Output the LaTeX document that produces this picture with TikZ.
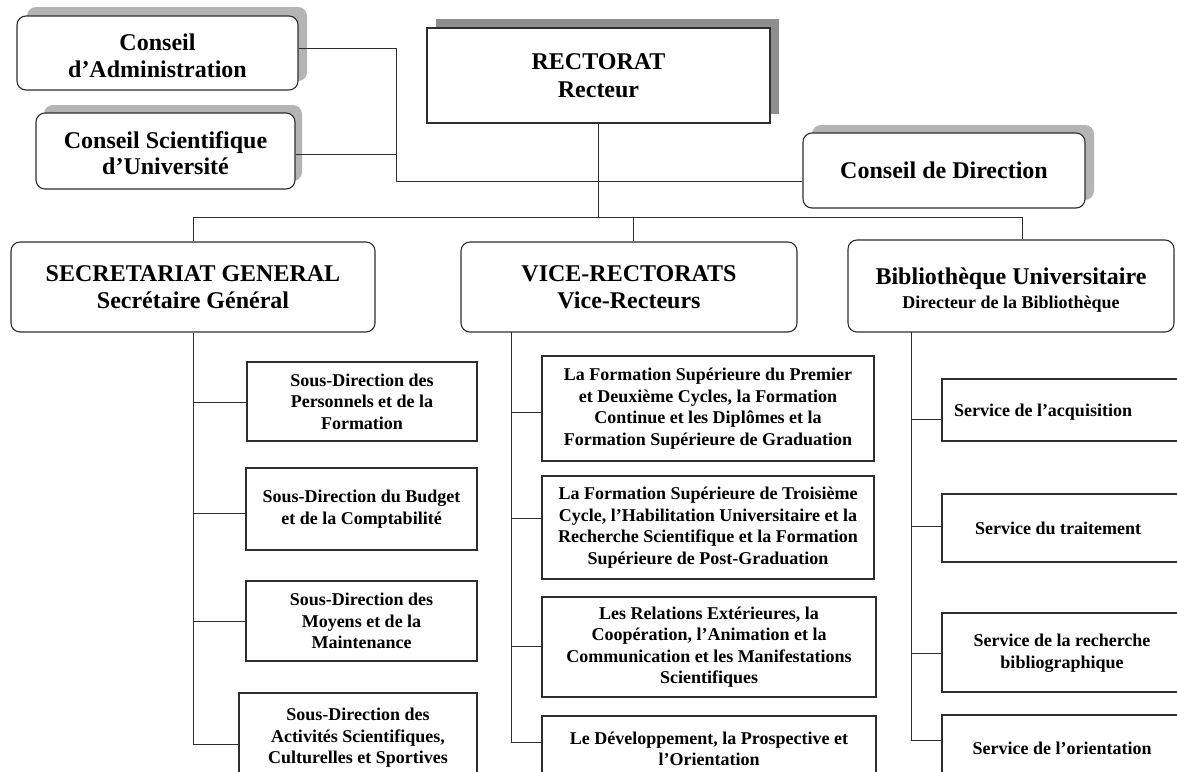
\documentclass[tikz,border=0pt]{standalone}
\usepackage{fontspec}
\setmainfont{Liberation Serif}
\definecolor{linecol}{HTML}{2E2E2E}
\definecolor{shadlight}{HTML}{B4B4B4}
\definecolor{shaddark}{HTML}{8E8E8E}
\begin{document}
\begin{tikzpicture}[x=1pt,y=-1pt,
  rbox/.style={draw=linecol, line width=1.1pt, rounded corners=9pt, fill=white, align=center, inner sep=0pt, text=black, font=\bfseries\fontsize{24}{27}\selectfont},
  rectbox/.style={draw=linecol, line width=1.3pt, fill=white, align=center, inner sep=0pt, text=black, font=\bfseries\fontsize{24}{28}\selectfont},
  btext/.style={align=center, inner sep=0pt, text=black, font=\bfseries\fontsize{24}{26.5}\selectfont},
  sbox/.style={draw=linecol, line width=1.1pt, fill=white, align=center, inner sep=0pt, text=black, font=\bfseries\fontsize{18}{21.5}\selectfont},
  stext/.style={align=center, inner sep=0pt, text=black, font=\bfseries\fontsize{18}{21.5}\selectfont},
  conn/.style={draw=linecol, line width=1pt}]
\useasboundingbox (0,0) rectangle (1177,771);
\clip (0,0) rectangle (1177,771);
\fill[white] (0,0) rectangle (1177,771);

% shadows
\fill[shadlight, rounded corners=9pt] (27,7) rectangle (307,81);
\fill[shadlight, rounded corners=9pt] (44,105) rectangle (302,181);
\fill[shaddark] (436,19) rectangle (779,114);
\fill[shadlight, rounded corners=9pt] (812,125) rectangle (1094,200);

% connector coordinates
\coordinate (caj) at (396,48);
\coordinate (csj) at (396,154);
\coordinate (cdj) at (396,181);
\coordinate (busL) at (193,217);
\coordinate (busM) at (633,217);
\coordinate (busR) at (1022,217);
\coordinate (sgb1) at (193,402);
\coordinate (sgb2) at (193,513);
\coordinate (sgb3) at (193,621);
\coordinate (sgb4) at (193,744);
\coordinate (vrs) at (511,332);
\coordinate (vrb1) at (511,412);
\coordinate (vrb2) at (511,518);
\coordinate (vrb3) at (511,646);
\coordinate (vrb4) at (511,742);
\coordinate (bbs) at (911,332);
\coordinate (bbb1) at (911,419);
\coordinate (bbb2) at (911,526);
\coordinate (bbb3) at (911,653);
\coordinate (bbb4) at (911,740);

% top nodes
\node[rbox, minimum width=281pt, minimum height=74pt] (ca) at (157.5,53) {};
\node[btext] (cat) at (157.5,56) {Conseil\\d’Administration};
\node[rbox, minimum width=259pt, minimum height=76pt] (csu) at (165.5,151) {};
\node[btext] (csut) at (165.5,153) {Conseil Scientifique\\d’Université};
\node[rectbox, minimum width=343pt, minimum height=95pt] (rect) at (598.5,75.5) {RECTORAT\\Recteur};
\node[rbox, minimum width=282pt, minimum height=75pt] (cd) at (944,170.5) {Conseil de Direction};

\node[rbox, minimum width=364pt, minimum height=90pt] (sg) at (193,287) {SECRETARIAT GENERAL\\Secrétaire Général};
\node[rbox, minimum width=336pt, minimum height=90pt] (vr) at (629,287) {VICE-RECTORATS\\Vice-Recteurs};
\node[rbox, minimum width=326pt, minimum height=92pt] (bib) at (1011,286) {};
\node[btext] (bibt) at (1011,290) {Bibliothèque Universitaire\\[-2pt]{\fontsize{18}{21}\selectfont Directeur de la Bibliothèque}};

% secretariat children
\node[sbox, minimum width=230pt, minimum height=79pt] (sg1) at (362,401.5) {Sous-Direction des\\Personnels et de la\\Formation};
\node[sbox, minimum width=231pt, minimum height=82pt] (sg2) at (361.5,509) {Sous-Direction du Budget\\et de la Comptabilité};
\node[sbox, minimum width=231pt, minimum height=80pt] (sg3) at (361.5,621) {Sous-Direction des\\Moyens et de la\\Maintenance};
\node[sbox, minimum width=238pt, minimum height=90pt] (sg4) at (358,738) {Sous-Direction des\\Activités Scientifiques,\\Culturelles et Sportives};

% vice-rectorat children
\node[sbox, minimum width=332pt, minimum height=105pt] (vr1) at (708,408.5) {La Formation Supérieure du Premier\\et Deuxième Cycles, la Formation\\Continue et les Diplômes et la\\Formation Supérieure de Graduation};
\node[sbox, minimum width=332pt, minimum height=103pt] (vr2) at (708,527.5) {La Formation Supérieure de Troisième\\Cycle, l’Habilitation Universitaire et la\\Recherche Scientifique et la Formation\\Supérieure de Post-Graduation};
\node[sbox, minimum width=334pt, minimum height=100pt] (vr3) at (709,647) {Les Relations Extérieures, la\\Coopération, l’Animation et la\\Communication et les Manifestations\\Scientifiques};
\node[sbox, minimum width=334pt, minimum height=66pt] (vr4) at (709,749) {Le Développement, la Prospective et\\l’Orientation};

% bibliotheque children
\node[sbox, minimum width=258pt, minimum height=62pt] (b1) at (1071,410) {};
\node[sbox, minimum width=258pt, minimum height=68pt] (b2) at (1071,528) {};
\node[sbox, minimum width=258pt, minimum height=79pt] (b3) at (1071,652.5) {};
\node[sbox, minimum width=258pt, minimum height=66pt] (b4) at (1071,748) {};
\node[stext] (b1t) at (1043,412) {Service de l’acquisition};
\node[stext] (b2t) at (1058,528) {Service du traitement};
\node[stext] (b3t) at (1062,653) {Service de la recherche\\bibliographique};
\node[stext] (b4t) at (1062,748) {Service de l’orientation};

% connectors
\draw[conn] (caj -| ca.east) -- (caj) -- (cdj) -- (cdj -| cd.west);
\draw[conn] (csj -| csu.east) -- (csj);
\draw[conn] (rect.south) -- (rect.south |- busL);
\draw[conn] (sg.north) -- (busL) -- (busR) -- (busR |- bib.north);
\draw[conn] (busM) -- (busM |- vr.north);

\draw[conn] (sg.south) -- (sgb4) -- (sgb4 -| sg4.west);
\draw[conn] (sgb1) -- (sgb1 -| sg1.west);
\draw[conn] (sgb2) -- (sgb2 -| sg2.west);
\draw[conn] (sgb3) -- (sgb3 -| sg3.west);

\draw[conn] (vrs) -- (vrb4) -- (vrb4 -| vr4.west);
\draw[conn] (vrb1) -- (vrb1 -| vr1.west);
\draw[conn] (vrb2) -- (vrb2 -| vr2.west);
\draw[conn] (vrb3) -- (vrb3 -| vr3.west);

\draw[conn] (bbs) -- (bbb4) -- (bbb4 -| b4.west);
\draw[conn] (bbb1) -- (bbb1 -| b1.west);
\draw[conn] (bbb2) -- (bbb2 -| b2.west);
\draw[conn] (bbb3) -- (bbb3 -| b3.west);
\end{tikzpicture}
\end{document}
